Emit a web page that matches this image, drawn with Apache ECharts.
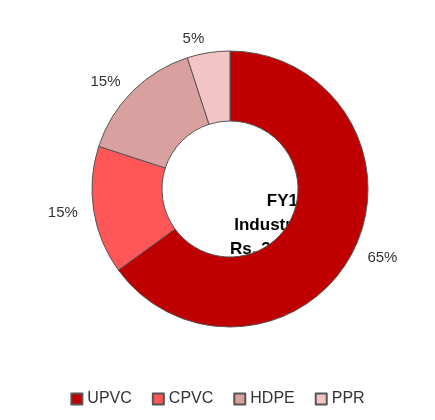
<!DOCTYPE html>
<html><head><meta charset="utf-8">
<script src="https://cdn.jsdelivr.net/npm/echarts@6/dist/echarts.min.js"></script>
<style>html,body{margin:0;padding:0;background:#fff}#c{width:435px;height:420px}</style>
</head><body><div id="c"></div>
<script>
var categories = ['UPVC', 'CPVC', 'HDPE', 'PPR'];
var values = [65, 15, 15, 5];
var colors = ['#C00000', '#FF5757', '#D9A0A0', '#F2C4C4'];

var chart = echarts.init(document.getElementById('c'));
chart.setOption({
    color: colors,
    graphic: [{
        type: 'text', left: 230, top: 189,
        style: {
            text: 'FY19\nIndustry Size\nRs. 300 billion',
            x: 0, y: 0, textAlign: 'center', textVerticalAlign: 'middle',
            font: 'bold 17px "Liberation Sans"', fill: '#000', lineHeight: 24
        }
    }],
    legend: {
        bottom: 8, left: 'center', itemWidth: 11, itemHeight: 11, itemGap: 20,
        icon: 'rect',
        textStyle: { fontSize: 16, color: '#333', fontFamily: 'Liberation Sans' }
    },
    series: [{
        type: 'pie',
        center: [230, 189],
        radius: [68, 138],
        startAngle: 90,
        silent: true,
        itemStyle: { borderColor: '#555', borderWidth: 1 },
        label: {
            show: true, position: 'outside', formatter: '{c}%',
            fontSize: 15, color: '#333', fontFamily: 'Liberation Sans', distanceToLabelLine: 2
        },
        labelLine: { show: false, length: 14, length2: 0 },
        data: categories.map(function (n, i) { return { name: n, value: values[i] }; })
    }]
});
</script></body></html>
